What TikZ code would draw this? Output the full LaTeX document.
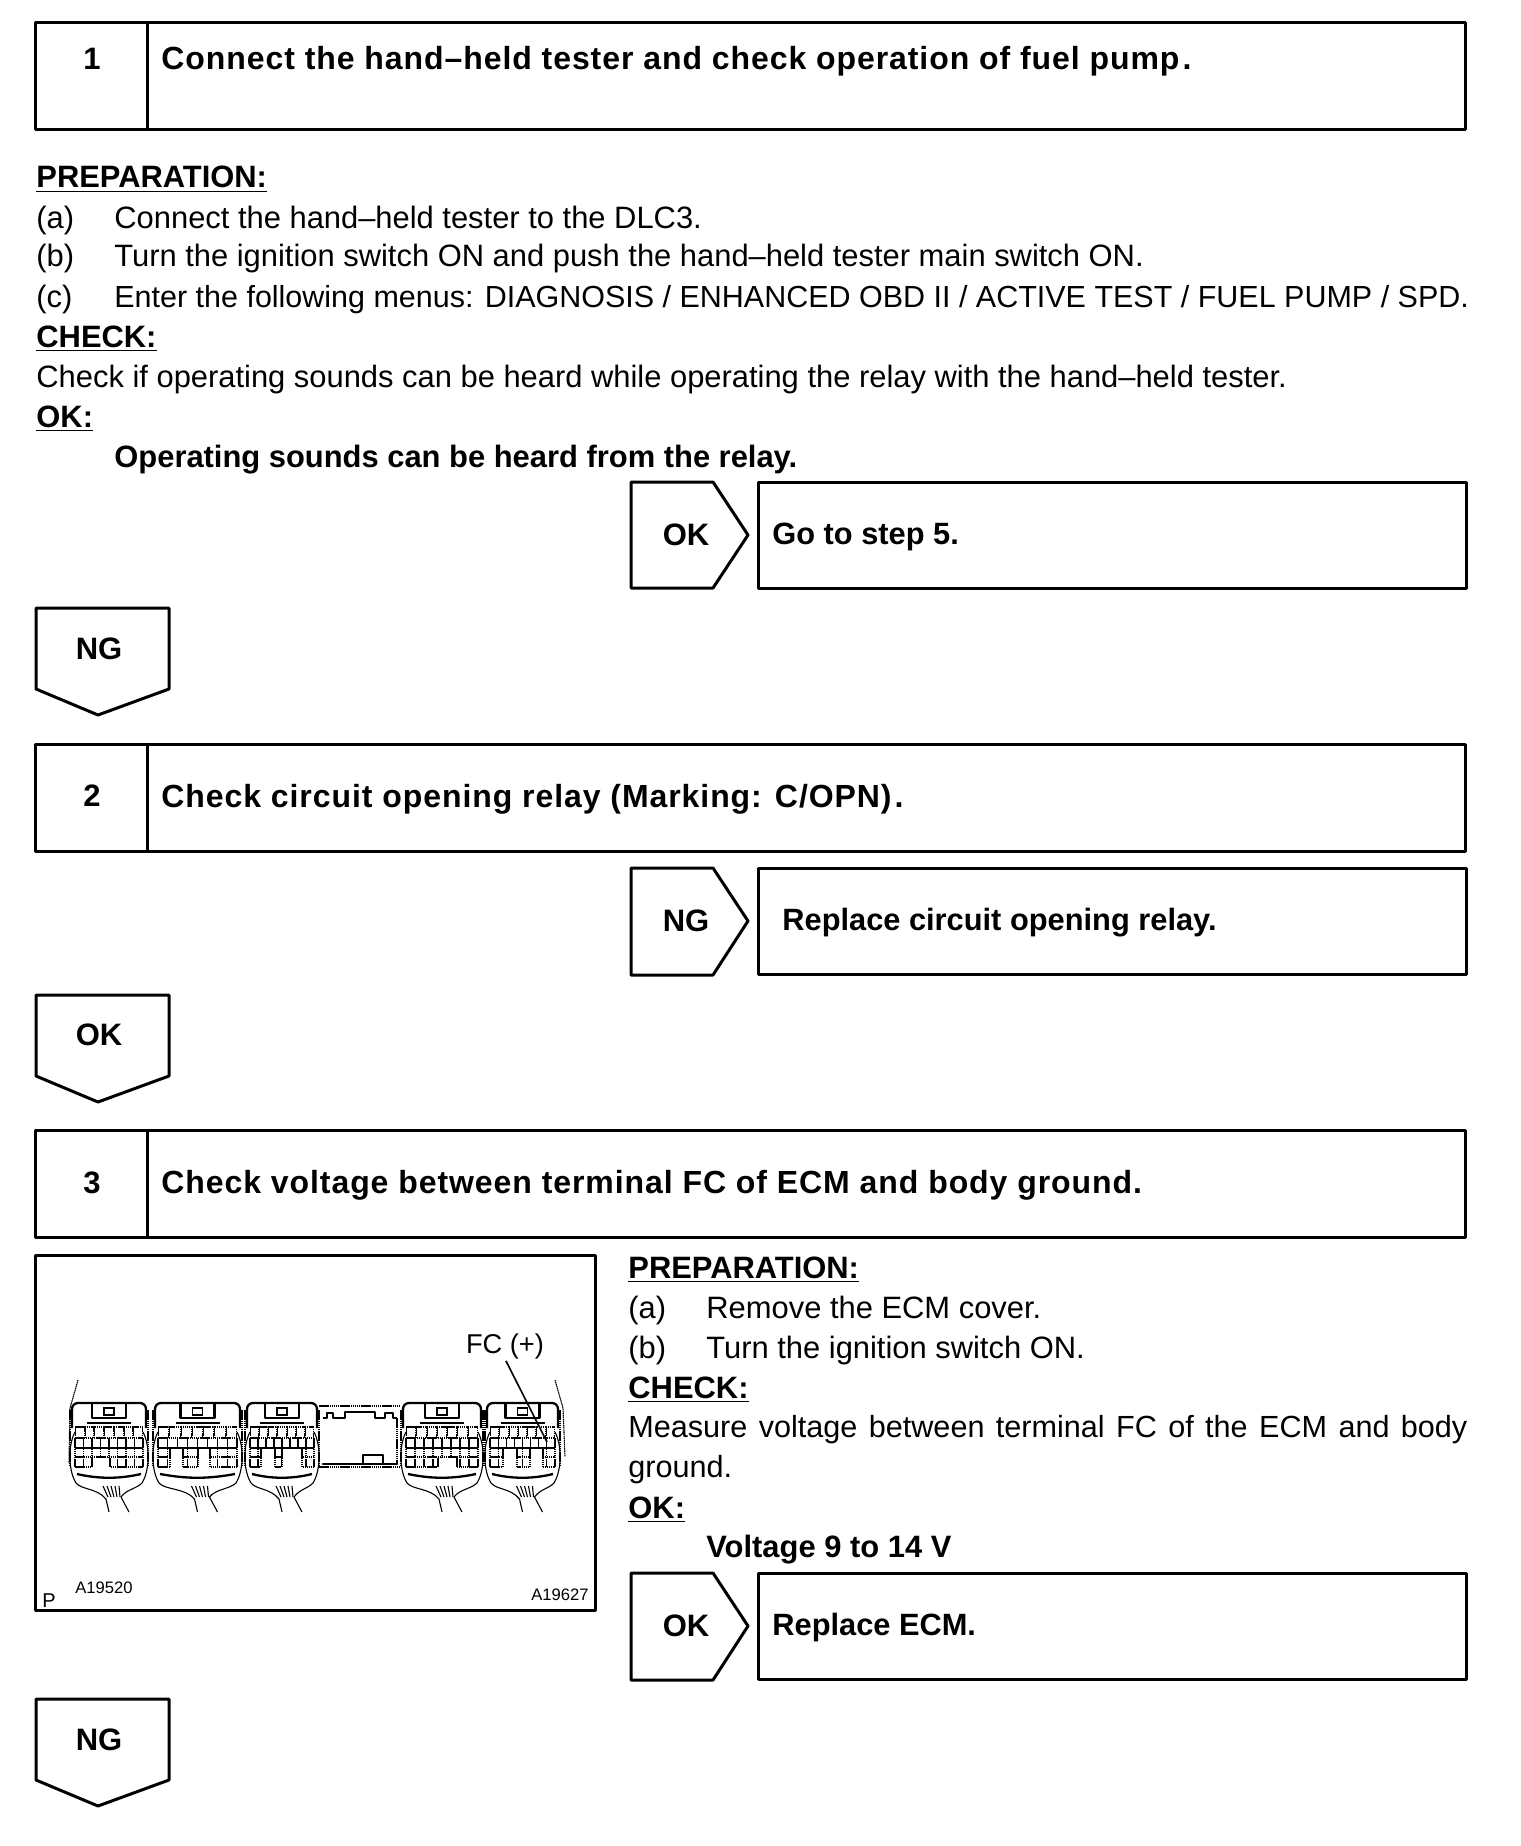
\documentclass[tikz,border=0pt]{standalone}
\usepackage{fontspec}
\setmainfont{Liberation Sans}
\newfontfamily\spacedfont[LetterSpace=2.9]{Liberation Sans}
\usetikzlibrary{positioning,calc}

\begin{document}
\begin{tikzpicture}[
    x=0.5pt, y=-0.5pt,
    frm/.style={draw, line width=1.5pt, line join=round, outer sep=0pt},
    stepnum/.style={font=\fontsize{15.5}{18}\selectfont\bfseries, anchor=center},
    stephead/.style={font=\fontsize{16}{18}\spacedfont\bfseries, anchor=base west, inner sep=0pt},
    tagtxt/.style={font=\fontsize{15.5}{18}\selectfont\bfseries, anchor=center},
    restxt/.style={font=\fontsize{15.4}{18}\selectfont\bfseries, anchor=base west, inner sep=0pt},
    txt/.style={font=\fontsize{15.45}{18}\selectfont, anchor=base west, inner sep=0pt},
    btxt/.style={txt, font=\fontsize{15.45}{18}\selectfont\bfseries},
    figtxt/.style={font=\fontsize{8.3}{9}\selectfont, anchor=base west, inner sep=0pt},
    shell/.style={draw, line width=1.15pt, line join=round},
    thinl/.style={draw, line width=0.55pt},
    dotl/.style={draw, line width=0.55pt, dash pattern=on 0.75pt off 0.3pt}]
    \useasboundingbox (0,0) rectangle (1520,1846);
    % Step 1
    \node[frm, minimum width=715pt, minimum height=53.5pt, anchor=north west] (stepa) at (35,23) {};
    \draw[frm] (147,23) -- (147,130);
    \node[stepnum] (numa) at (92,59) {1};
    \node[stephead] (heada) at (161,70) {Connect the hand–held tester and check operation of fuel pump\kern1.5pt.};
    \node[txt] (prepa) at (36,188) {\underline{\textbf{PREPARATION:}}};
    \node[txt] (prepaa) at (36,228) {(a)};
    \node[txt] (prepab) at (36,267) {(b)};
    \node[txt] (prepac) at (36,307) {(c)};
    \node[txt] (texaa) at (114,228) {Connect the hand–held tester to the DLC3.};
    \node[txt] (texab) at (114,267) {Turn the ignition switch ON and push the hand–held tester main switch ON.};
    \node[txt, font=\fontsize{15.24}{18}\selectfont] (texac) at (114,307) {Enter the following menus: DIAGNOSIS / ENHANCED OBD II / ACTIVE TEST / FUEL PUMP / SPD.};
    \node[txt] (checka) at (36,347) {\underline{\textbf{CHECK:}}};
    \node[txt] (texad) at (36,387) {Check if operating sounds can be heard while operating the relay with the hand–held tester.};
    \node[txt] (oka) at (36,427) {\underline{\textbf{OK:}}};
    \node[btxt] (okatxt) at (114,467) {Operating sounds can be heard from the relay.};
    \draw[frm] (631,482) -- (713,482) -- (748,535) -- (713,588) -- (631,588) -- cycle;
    \node[tagtxt] (tagaok) at (686,535) {OK};
    \node[frm, minimum width=354pt, minimum height=53pt, anchor=north west] (resa) at (758,482) {};
    \node[restxt] (resatxt) at (772,544) {Go to step 5.};
    \draw[frm] (36,608) -- (169,608) -- (169,689) -- (98,715) -- (36,689) -- cycle;
    \node[tagtxt] (tagang) at (99,649) {NG};
    % Step 2
    \node[frm, minimum width=715pt, minimum height=53.5pt, anchor=north west] (stepb) at (35,744) {};
    \draw[frm] (147,744) -- (147,851);
    \node[stepnum] (numb) at (92,796) {2};
    \node[stephead] (headb) at (161,807) {Check circuit opening relay (Marking: C/OPN)\kern1.5pt.};
    \draw[frm] (631,868) -- (713,868) -- (748,921) -- (713,975) -- (631,975) -- cycle;
    \node[tagtxt] (tagbng) at (686,921) {NG};
    \node[frm, minimum width=354pt, minimum height=53pt, anchor=north west] (resb) at (758,868) {};
    \node[restxt] (resbtxt) at (782,930) {Replace circuit opening relay.};
    \draw[frm] (36,995) -- (169,995) -- (169,1076) -- (98,1102) -- (36,1076) -- cycle;
    \node[tagtxt] (tagbok) at (99,1035) {OK};
    % Step 3
    \node[frm, minimum width=715pt, minimum height=53.5pt, anchor=north west] (stepc) at (35,1130) {};
    \draw[frm] (147,1130) -- (147,1237);
    \node[stepnum] (numc) at (92,1183) {3};
    \node[stephead] (headc) at (161,1193) {Check voltage between terminal FC of ECM and body ground.};
    % ECM connectors
    \node[frm, minimum width=280pt, minimum height=177.5pt, anchor=north west] (figbox) at (35,1255) {};
    \foreach \lft/\rgt/\ca/\cb/\cc/\cd/\ct in {70/148/92/110/110/110/1458, 153/242/170/183/198/210/1449, 245/319/261/275/282/302/1449, 401/483/438/457/457/457/1458, 485/560/503/517/530/543/1449} {
      \pgfmathsetmacro\gl{\lft+5}
      \pgfmathsetmacro\gr{\rgt-5}
      \pgfmathsetmacro\mdl{(\lft+\rgt)/2}
      \pgfmathsetmacro\gs{(\gr-\gl)/8}
      \pgfmathsetmacro\us{(\gr-\gl)/7}
      % housing and latch
      \draw[shell, rounded corners=3pt] (\lft+2,1428) |- (\rgt-2,1403) -- (\rgt-2,1428);
      \draw[shell] (\mdl-17,1403) rectangle (\mdl+17,1418);
      \draw[thinl] (\mdl-5,1408) rectangle (\mdl+5,1415);
      \draw[thinl] (\mdl-22,1423) -- (\mdl+22,1423);
      \draw[dotl] (\lft,1410) -- (\lft,1465);
      \draw[dotl] (\rgt,1410) -- (\rgt,1465);
      % terminal cells
      \foreach \k in {0,...,6}
        \draw[dotl] ({\gl+\k*\us+0.5},1438) |- ({\gl+(\k+1)*\us-0.5},1427) -- ({\gl+(\k+1)*\us-0.5},1438);
      \foreach \k in {0,...,8}
        \draw[dotl] ({\gl+\k*\gs},1438) -- ({\gl+\k*\gs},1467);
      \foreach \yy in {1438,1457,1467}
        \draw[dotl] (\gl,\yy) -- (\gr,\yy);
      \fill[white] (\ca,\ct) rectangle (\cb,1469);
      \fill[white] (\cc,\ct) rectangle (\cd,1469);
      \draw[dotl] (\ca,\ct) -- (\ca,1467) (\cb,\ct) -- (\cb,1467) (\cc,\ct) -- (\cc,1467) (\cd,\ct) -- (\cd,1467);
      \draw[shell] (\gl,1448) -- (\gr,1448);
      % cover, bar and wires
      \draw[shell] (\lft+7,1474) .. controls (\mdl-10,1479) and (\mdl+10,1479) .. (\rgt-7,1474);
      \draw[thinl] (\gl,1432) .. controls (\lft-2,1445) and (\lft-2,1470) .. (\lft+6,1483) .. controls (\lft+12,1490) and (\mdl-12,1488) .. (\mdl-3,1499);
      \draw[thinl] (\gr,1432) .. controls (\rgt+2,1445) and (\rgt+2,1470) .. (\rgt-6,1483) .. controls (\rgt-12,1489) and (\mdl+18,1489) .. (\mdl+12,1497);
      \draw[thinl] (\mdl-3,1499) -- (\mdl,1512);
      \draw[thinl] (\mdl+12,1497) -- (\mdl+20,1512);
      \foreach \k in {0,...,4}
        \draw[thinl] ({\mdl-6+\k*4},1486) -- ({\mdl-1+\k*3},1497);
    }
    % middle block
    \draw[dotl] (319,1406) -- (400,1406) (319,1467) -- (400,1467);
    \draw[shell] (323,1418) -- (327,1418) -- (327,1413) -- (333,1413) -- (333,1418) -- (345,1418) -- (345,1412) -- (375,1412) -- (375,1418) -- (385,1418) -- (385,1413) -- (393,1413) -- (393,1418) -- (397,1418) (397,1464) -- (383,1464) -- (383,1455) -- (363,1455) -- (363,1464) -- (323,1464) -- cycle;
    \draw[dotl] (397,1418) -- (397,1464);
    \draw[dotl] (78,1380) -- (70,1408) -- (69,1463);
    \draw[dotl] (555,1380) -- (563,1408) -- (565,1457);
    \node[txt, anchor=base, font=\fontsize{13.6}{16}\selectfont] (fclabel) at (505,1353) {FC (+)};
    \coordinate (fcpin) at (547,1442);
    \draw[line width=0.8pt, shorten <=1pt] (fclabel.south) -- (fcpin);
    \node[figtxt] (figa) at (75,1593) {A19520};
    \node[figtxt] (figb) at (531,1600) {A19627};
    \node[figtxt, font=\fontsize{10}{12}\selectfont] (figp) at (42,1607) {P};
    % text beside the figure
    \node[txt] (prepc) at (628,1278) {\underline{\textbf{PREPARATION:}}};
    \node[txt] (prepca) at (628,1318) {(a)};
    \node[txt] (prepcb) at (628,1358) {(b)};
    \node[txt] (texca) at (706,1318) {Remove the ECM cover.};
    \node[txt] (texcb) at (706,1358) {Turn the ignition switch ON.};
    \node[txt] (checkc) at (628,1398) {\underline{\textbf{CHECK:}}};
    \node[txt, text width=419.5pt, align=justify, anchor=north west, font=\fontsize{15.3}{20}\selectfont] (texcc) at (628,1415) {Measure voltage between terminal FC of the ECM and body ground.};
    \node[txt] (okc) at (628,1518) {\underline{\textbf{OK:}}};
    \node[btxt] (okctxt) at (706,1557) {Voltage 9 to 14 V};
    \draw[frm] (631,1573) -- (713,1573) -- (748,1626) -- (713,1680) -- (631,1680) -- cycle;
    \node[tagtxt] (tagcok) at (686,1626) {OK};
    \node[frm, minimum width=354pt, minimum height=53pt, anchor=north west] (resc) at (758,1573) {};
    \node[restxt] (resctxt) at (772,1635) {Replace ECM.};
    \draw[frm] (36,1699) -- (169,1699) -- (169,1780) -- (98,1806) -- (36,1780) -- cycle;
    \node[tagtxt] (tagcng) at (99,1740) {NG};
\end{tikzpicture}
\end{document}
